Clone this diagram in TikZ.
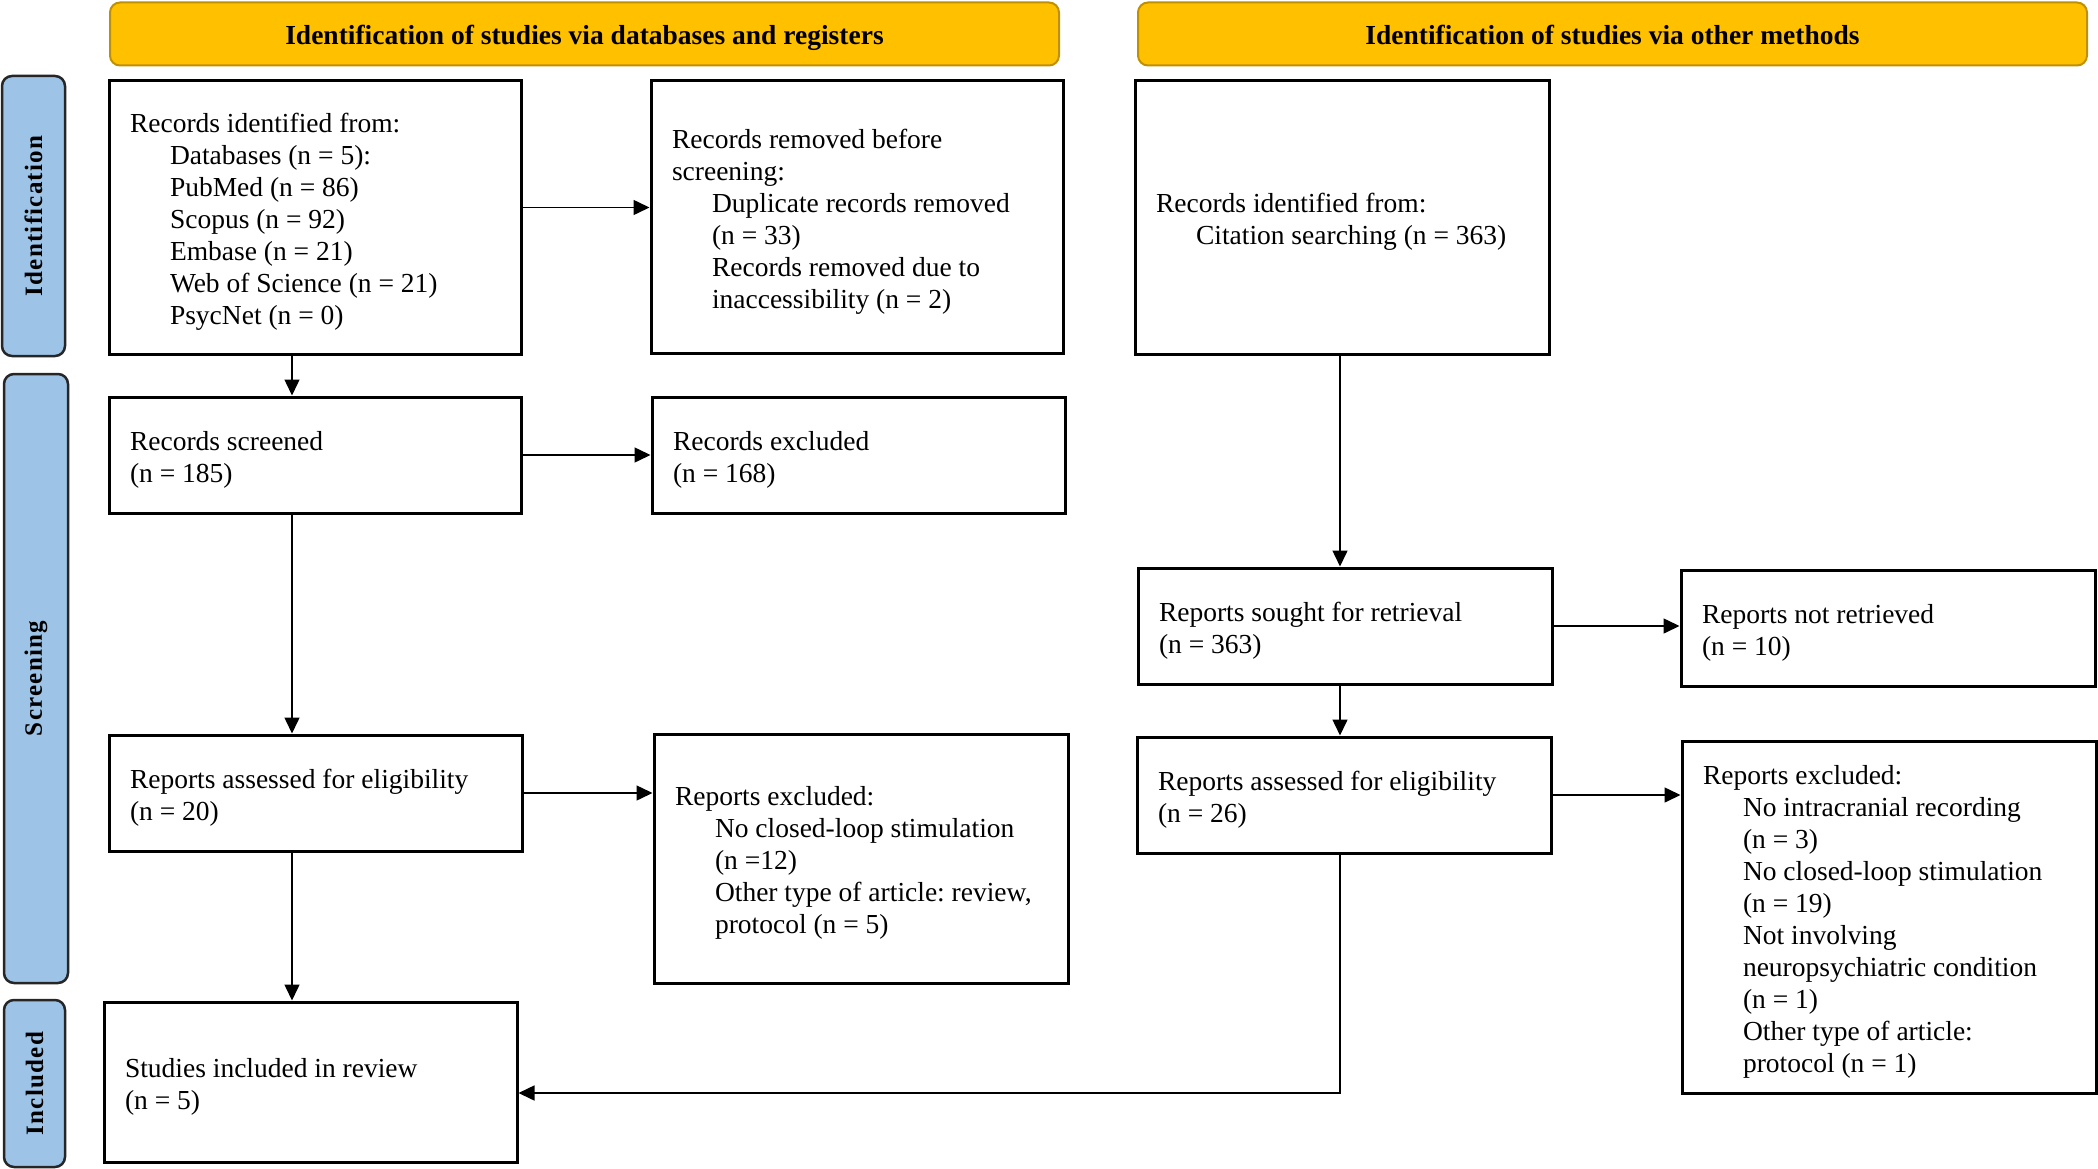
\documentclass[tikz,border=0pt]{standalone}
\usepackage{fontspec}
\setmainfont{Liberation Serif}
\newfontfamily\sidefont[LetterSpace=5.0]{Liberation Serif}
\usetikzlibrary{arrows.meta,calc}
\definecolor{hdrfill}{RGB}{255,192,0}
\definecolor{hdrline}{RGB}{191,144,0}
\definecolor{sidefill}{RGB}{157,195,230}
\newcommand\ind{\hspace*{40pt}}
\newcommand\tb[2]{\raisebox{-4.5pt}[\height][\depth]{\parbox[t]{#1pt}{\raggedright #2}}}
\newcommand\hdrtxt[1]{\raisebox{-4pt}[\height][\depth]{\strut #1}}
\frenchspacing
\begin{document}
\begin{tikzpicture}[x=1pt,y=-1pt,
  box/.style n args={2}{draw=black, line width=3pt, fill=white, inner xsep=21pt, inner ysep=0pt,
    font=\fontsize{27.5}{32}\selectfont\frenchspacing, minimum width=#1pt, minimum height=#2pt},
  hdr/.style={draw=hdrline, fill=hdrfill, line width=2pt, rounded corners=10pt, minimum width=949pt,
    minimum height=63pt, inner sep=0pt, font=\fontsize{27.5}{32}\selectfont\bfseries},
  side/.style n args={2}{draw=black!85, fill=sidefill, line width=2.5pt, rounded corners=10pt, rotate=90,
    minimum width=#1pt, minimum height=#2pt, inner sep=0pt, font=\fontsize{25}{30}\sidefont\bfseries},
  arr/.style={draw=black, line width=1.5pt, -{Triangle[length=16pt,width=15pt]}}]
\useasboundingbox (0,0) rectangle (2098,1169);

% headers
\node[hdr] (h1) at (584.5,34) {\hdrtxt{Identification of studies via databases and registers}};
\node[hdr] (h2) at (1612.5,34) {\hdrtxt{Identification of studies via other methods}};

% side bars
\node[side={280}{63}] (s1) at (33.5,216) {Identification};
\node[side={609}{64}] (s2) at (36,678.5) {Screening};
\node[side={167}{61}] (s3) at (34.5,1083.5) {Included};

% boxes
\node[box={412}{273}] (A) at (315,217.5) {\tb{370}{Records identified from:\\
\ind Databases (n = 5):\\
\ind PubMed (n = 86)\\
\ind Scopus (n = 92)\\
\ind Embase (n = 21)\\
\ind Web of Science (n = 21)\\
\ind PsycNet (n = 0)}};

\node[box={412}{272}] (B) at (857,217) {\tb{370}{Records removed before\\
screening:\\
\ind Duplicate records removed\\
\ind (n = 33)\\
\ind Records removed due to\\
\ind inaccessibility (n = 2)}};

\node[box={414}{273}] (C) at (1342,217.5) {\tb{372}{Records identified from:\\
\ind Citation searching (n = 363)}};

\node[box={412}{116}] (scr) at (315,455) {\tb{370}{Records screened\\(n = 185)}};
\node[box={413}{116}] (excl) at (858.5,455) {\tb{371}{Records excluded\\(n = 168)}};

\node[box={414}{116}] (sought) at (1345,626) {\tb{372}{Reports sought for retrieval\\(n = 363)}};
\node[box={414}{116}] (notret) at (1888,628) {\tb{372}{Reports not retrieved\\(n = 10)}};

\node[box={413}{116}] (assessL) at (315.5,793) {\tb{371}{Reports assessed for eligibility\\(n = 20)}};
\node[box={414}{249}] (exclL) at (861,858.5) {\tb{372}{Reports excluded:\\
\ind No closed-loop stimulation\\
\ind (n =12)\\
\ind Other type of article: review,\\
\ind protocol (n = 5)}};

\node[box={414}{116}] (assessR) at (1344,795) {\tb{372}{Reports assessed for eligibility\\(n = 26)}};
\node[box={414}{352}] (exclR) at (1889,917) {\tb{372}{Reports excluded:\\
\ind No intracranial recording\\
\ind (n = 3)\\
\ind No closed-loop stimulation\\
\ind (n = 19)\\
\ind Not involving\\
\ind neuropsychiatric condition\\
\ind (n = 1)\\
\ind Other type of article:\\
\ind protocol (n = 1)}};

\node[box={413}{160}] (incl) at (310.5,1082) {\tb{371}{Studies included in review\\(n = 5)}};

% connectors
\coordinate (lx) at (292,0);
\coordinate (rx) at (1340,0);
\draw[arr] (A.south -| lx) -- (scr.north -| lx);
\draw[arr] (scr.south -| lx) -- (assessL.north -| lx);
\draw[arr] (assessL.south -| lx) -- (incl.north -| lx);
\draw[arr] ([yshift=10pt]A.east) -- ([yshift=10pt]A.east -| B.west);
\draw[arr] (scr.east) -- (scr.east -| excl.west);
\draw[arr] (assessL.east) -- (assessL.east -| exclL.west);
\draw[arr] (C.south -| rx) -- (sought.north -| rx);
\draw[arr] (sought.east) -- (sought.east -| notret.west);
\draw[arr] (sought.south -| rx) -- (assessR.north -| rx);
\draw[arr] (assessR.east) -- (assessR.east -| exclR.west);
\draw[arr] (assessR.south -| rx) |- ([yshift=-11pt]incl.east);
\end{tikzpicture}
\end{document}
